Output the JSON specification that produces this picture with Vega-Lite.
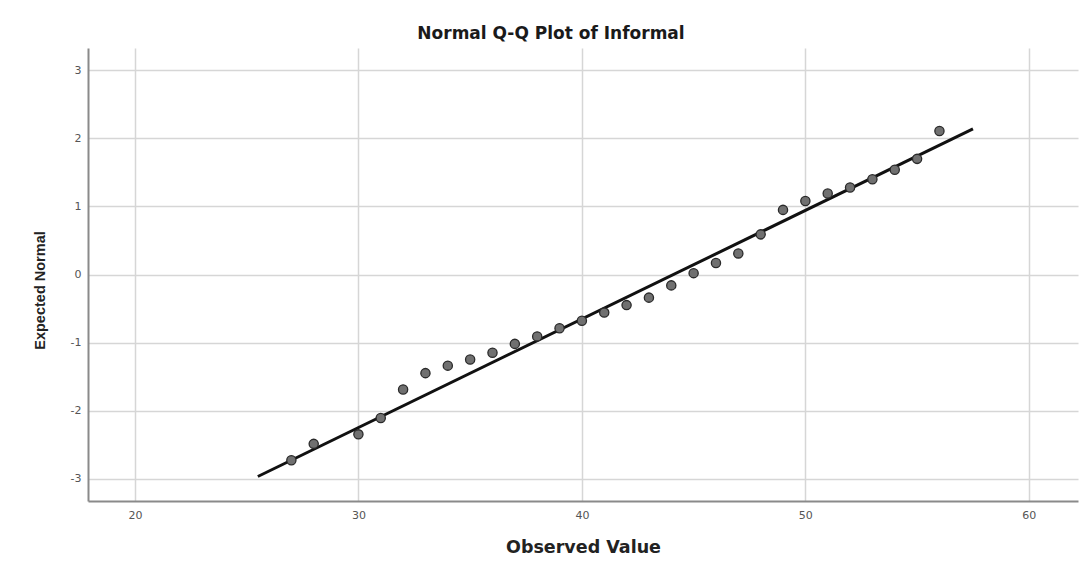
{
  "$schema": "https://vega.github.io/schema/vega-lite/v6.json",
  "autosize": "none",
  "width": 990,
  "height": 453,
  "padding": {"left": 88, "top": 48, "right": 4, "bottom": 68},
  "background": "white",
  "config": {
    "view": {"stroke": null},
    "font": "Liberation Sans"
  },
  "title": {
    "text": "Normal Q-Q Plot of Informal",
    "font": "DejaVu Sans",
    "fontSize": 17,
    "fontWeight": "bold",
    "color": "#1a1a1a",
    "anchor": "middle",
    "dx": -32,
    "offset": 5
  },
  "datasets": {
    "points": [
      {"observed": 27, "expected": -2.73},
      {"observed": 28, "expected": -2.49},
      {"observed": 30, "expected": -2.35},
      {"observed": 31, "expected": -2.11},
      {"observed": 32, "expected": -1.69},
      {"observed": 33, "expected": -1.45},
      {"observed": 34, "expected": -1.34},
      {"observed": 35, "expected": -1.25},
      {"observed": 36, "expected": -1.15},
      {"observed": 37, "expected": -1.02},
      {"observed": 38, "expected": -0.91},
      {"observed": 39, "expected": -0.79},
      {"observed": 40, "expected": -0.68},
      {"observed": 41, "expected": -0.56},
      {"observed": 42, "expected": -0.45},
      {"observed": 43, "expected": -0.34},
      {"observed": 44, "expected": -0.16},
      {"observed": 45, "expected": 0.02},
      {"observed": 46, "expected": 0.17},
      {"observed": 47, "expected": 0.31},
      {"observed": 48, "expected": 0.59},
      {"observed": 49, "expected": 0.95},
      {"observed": 50, "expected": 1.08},
      {"observed": 51, "expected": 1.19},
      {"observed": 52, "expected": 1.28},
      {"observed": 53, "expected": 1.40},
      {"observed": 54, "expected": 1.54},
      {"observed": 55, "expected": 1.70},
      {"observed": 56, "expected": 2.11}
    ],
    "refline": [
      {"observed": 25.5, "expected": -2.97},
      {"observed": 57.5, "expected": 2.14}
    ]
  },
  "encoding": {
    "x": {
      "field": "observed",
      "type": "quantitative",
      "scale": {"domain": [17.9, 62.2], "nice": false, "zero": false},
      "axis": {
        "title": "Observed Value",
        "values": [20, 30, 40, 50, 60],
        "labelExpr": "'' + datum.value",
        "titleFont": "DejaVu Sans",
        "titleFontSize": 17.5,
        "titleFontWeight": "bold",
        "titleColor": "#222222",
        "titlePadding": 18,
        "labelFont": "DejaVu Sans",
        "labelFontSize": 11,
        "labelColor": "#555555",
        "labelPadding": 8,
        "ticks": false,
        "domainColor": "#8a8a8a",
        "domainWidth": 2,
        "grid": true,
        "gridColor": "#d6d6d6",
        "gridWidth": 1.5
      }
    },
    "y": {
      "field": "expected",
      "type": "quantitative",
      "scale": {"domain": [-3.33, 3.33], "nice": false, "zero": false},
      "axis": {
        "title": "Expected Normal",
        "values": [-3, -2, -1, 0, 1, 2, 3],
        "labelExpr": "'' + datum.value",
        "titleFont": "Liberation Sans",
        "titleFontSize": 14.5,
        "titleFontWeight": "bold",
        "titleColor": "#222222",
        "titleAngle": -90,
        "titleX": -48,
        "titleY": 242,
        "titleBaseline": "middle",
        "titleAlign": "center",
        "labelFont": "DejaVu Sans",
        "labelFontSize": 11,
        "labelColor": "#555555",
        "labelPadding": 7,
        "ticks": false,
        "domainColor": "#8a8a8a",
        "domainWidth": 2,
        "grid": true,
        "gridColor": "#d6d6d6",
        "gridWidth": 1.5
      }
    }
  },
  "layer": [
    {
      "data": {"name": "refline"},
      "mark": {"type": "line", "color": "#111111", "strokeWidth": 3},
      "encoding": {}
    },
    {
      "data": {"name": "points"},
      "mark": {
        "type": "point",
        "shape": "circle",
        "filled": true,
        "size": 85,
        "fill": "#707070",
        "stroke": "#2a2a2a",
        "strokeWidth": 1.3,
        "opacity": 1
      },
      "encoding": {}
    }
  ]
}
